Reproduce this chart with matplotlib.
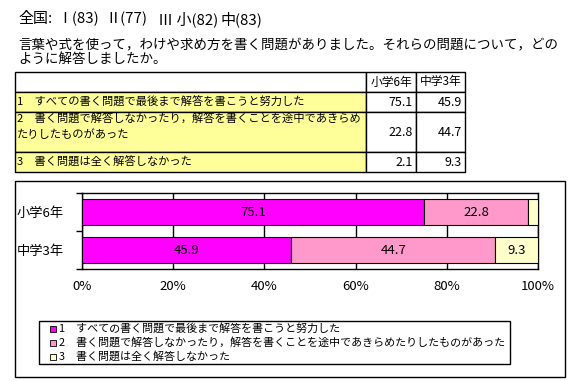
import matplotlib
matplotlib.use("Agg")
import matplotlib.pyplot as plt
from matplotlib.patches import Rectangle

plt.rcParams['font.family'] = ['Noto Sans CJK JP', 'DejaVu Sans']

# ---- data ----
title_parts = ["全国:", "Ⅰ(83)", "Ⅱ(77)", "Ⅲ 小(82)", "中(83)"]
question_lines = ["言葉や式を使って，わけや求め方を書く問題がありました。それらの問題について，どの",
                  "ように解答しましたか。"]
groups = ["小学6年", "中学3年"]
answers = ["1　すべての書く問題で最後まで解答を書こうと努力した",
           "2　書く問題で解答しなかったり，解答を書くことを途中であきらめたりしたものがあった",
           "3　書く問題は全く解答しなかった"]
table_answers = ["1　すべての書く問題で最後まで解答を書こうと努力した",
                 "2　書く問題で解答しなかったり，解答を書くことを途中であきらめ\nたりしたものがあった",
                 "3　書く問題は全く解答しなかった"]
elem = [75.1, 22.8, 2.1]   # 小学6年
jhs = [45.9, 44.7, 9.3]    # 中学3年
values = [elem, jhs]
colors = ["#FF00FF", "#FF99CC", "#FFFFCC"]
xticks = [0, 20, 40, 60, 80, 100]
xticklabels = ["0%", "20%", "40%", "60%", "80%", "100%"]

W, H = 581, 381
fig = plt.figure(figsize=(W / 100, H / 100), dpi=100)

# overlay axis in pixel coordinates
ov = fig.add_axes([0, 0, 1, 1], zorder=0)
ov.set_xlim(0, W)
ov.set_ylim(H, 0)
ov.axis('off')

title_x = [18, 57, 105, 158, 220]
for tx, part in zip(title_x, title_parts):
    ov.text(tx, 19, part, fontsize=10.8, va='center', ha='left')
ov.text(18, 45, question_lines[0], fontsize=9.7, va='center', ha='left')
ov.text(18, 59, question_lines[1], fontsize=9.7, va='center', ha='left')

# table
tx0, tx1, tx2, tx3 = 15, 366, 416, 465
row_y = [72, 92, 112, 152, 172]
lw = 1.0
for (a, b) in [(tx0, tx1), (tx1, tx2), (tx2, tx3)]:
    ov.add_patch(Rectangle((a, row_y[0]), b - a, row_y[1] - row_y[0], fc='white', ec='black', lw=lw))
ov.text((tx1 + tx2) / 2, (row_y[0] + row_y[1]) / 2, groups[0], fontsize=8.5, ha='center', va='center')
ov.text((tx2 + tx3) / 2, (row_y[0] + row_y[1]) / 2, groups[1], fontsize=8.5, ha='center', va='center')
for i in range(3):
    y0, y1 = row_y[i + 1], row_y[i + 2]
    ov.add_patch(Rectangle((tx0, y0), tx1 - tx0, y1 - y0, fc='#FFFF99', ec='black', lw=lw))
    ov.add_patch(Rectangle((tx1, y0), tx2 - tx1, y1 - y0, fc='white', ec='black', lw=lw))
    ov.add_patch(Rectangle((tx2, y0), tx3 - tx2, y1 - y0, fc='white', ec='black', lw=lw))
    if "\n" in table_answers[i]:
        ov.text(17, y0 + 2, table_answers[i], fontsize=8.1, ha='left', va='top', linespacing=1.5)
    else:
        ov.text(17, (y0 + y1) / 2, table_answers[i], fontsize=8.1, ha='left', va='center')
    ov.text(tx2 - 3, (y0 + y1) / 2 + 1, f"{values[0][i]:.1f}", fontsize=9, ha='right', va='center')
    ov.text(tx3 - 3, (y0 + y1) / 2 + 1, f"{values[1][i]:.1f}", fontsize=9, ha='right', va='center')

# chart frame
ov.add_patch(Rectangle((15, 181), 550, 196, fc='white', ec='black', lw=1.0, zorder=0.5))

# legend box
lx0, ly0, lx1, ly1 = 39, 321, 510, 364
ov.add_patch(Rectangle((lx0, ly0), lx1 - lx0, ly1 - ly0, fc='white', ec='black', lw=1.0, zorder=1))
leg_y = [328.5, 342.5, 356.5]
for i in range(3):
    ov.add_patch(Rectangle((50, leg_y[i] - 3), 6, 6, fc=colors[i], ec='black', lw=0.6, zorder=2))
    ov.text(59, leg_y[i], answers[i], fontsize=7.9, ha='left', va='center', zorder=2)

# bar chart
px0, px1, py0, py1 = 82, 538, 193, 269
ax = fig.add_axes([px0 / W, (H - py1) / H, (px1 - px0) / W, (py1 - py0) / H], zorder=2)
ax.set_facecolor('white')
ypos = list(range(len(groups)))
left = [0.0] * len(groups)
for k in range(3):
    seg = [values[g][k] for g in range(len(groups))]
    ax.barh(ypos, seg, left=left, height=0.68, color=colors[k], edgecolor='black', linewidth=0.8, zorder=3)
    for g in range(len(groups)):
        if seg[g] >= 5:
            ax.text(left[g] + seg[g] / 2, ypos[g], f"{seg[g]:.1f}", ha='center', va='center', fontsize=9.5, zorder=4)
    left = [left[g] + seg[g] for g in range(len(groups))]

ax.set_xlim(0, 100)
ax.set_ylim(len(groups) - 0.5, -0.5)
ax.set_xticks(xticks)
ax.set_xticklabels(xticklabels, fontsize=9.5)
ax.set_yticks(ypos)
ax.set_yticklabels(groups, fontsize=9.5)
ax.set_yticks([-0.5, 0.5, 1.5], minor=True)
ax.tick_params(axis='y', which='major', length=0, pad=13)
ax.tick_params(axis='y', which='minor', length=4, width=1, direction='out')
ax.tick_params(axis='x', which='major', length=0, pad=8)
ax.grid(axis='x', color='black', linewidth=1, zorder=1)
ax.set_axisbelow(True)
for s in ax.spines.values():
    s.set_linewidth(1)
    s.set_color('black')

fig.savefig("out.png", dpi=100)
